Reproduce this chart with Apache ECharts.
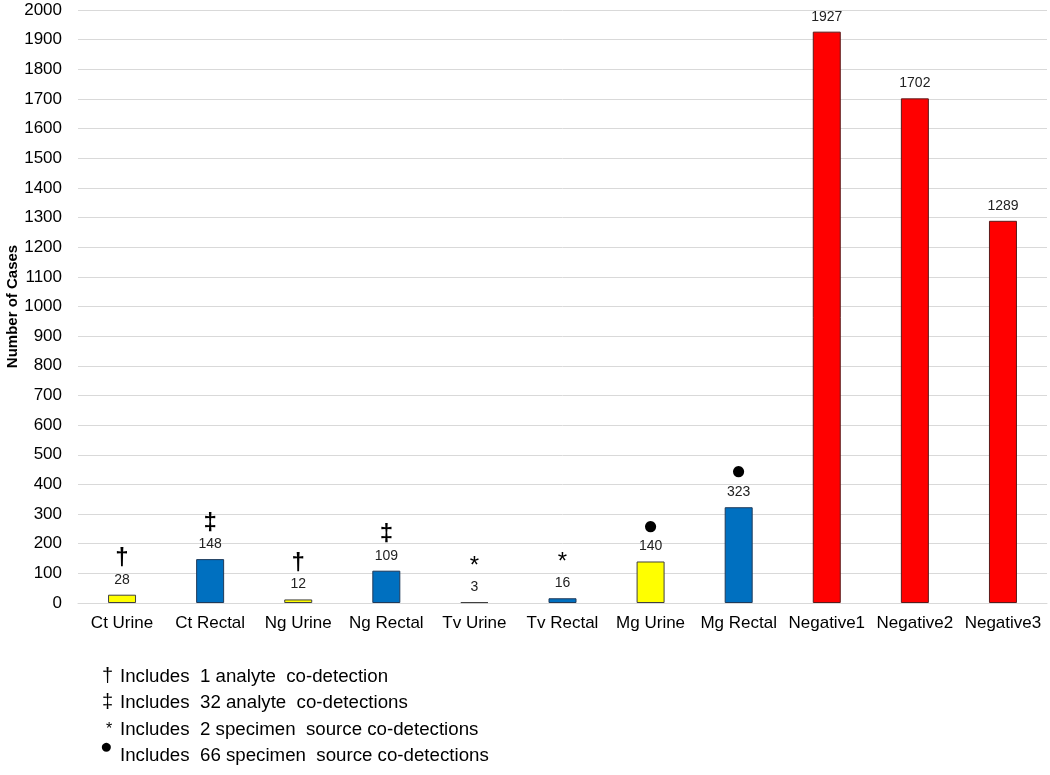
<!DOCTYPE html>
<html>
<head>
<meta charset="utf-8">
<script src="https://cdn.jsdelivr.net/npm/echarts@6/dist/echarts.min.js"></script>
<style>html,body{margin:0;padding:0;background:#fff}#c{width:1050px;height:775px}</style>
</head>
<body>
<div id="c"></div>
<script>
const categories = ['Ct Urine','Ct Rectal','Ng Urine','Ng Rectal','Tv Urine','Tv Rectal','Mg Urine','Mg Rectal','Negative1','Negative2','Negative3'];
const values = [28,148,12,109,3,16,140,323,1927,1702,1289];
const marks = ['†','‡','†','‡','*','*','●','●','','',''];
const groups = ['urine','rectal','urine','rectal','urine','rectal','urine','rectal','negative','negative','negative'];
const footnoteSymbols = ['†','‡','*','●'];
const footnotes = ['Includes  1 analyte  co-detection','Includes  32 analyte  co-detections','Includes  2 specimen  source co-detections','Includes  66 specimen  source co-detections'];
const yTicks = {min:0, max:2000, interval:100};

const fills = {urine:'#FFFF00', rectal:'#0070C0', negative:'#FF0000'};
const borders = {urine:'#404040', rectal:'#1f3a5a', negative:'#5a1a1a'};
const markStyle = {'†':'d','‡':'d','*':'a','●':'c'};

const chart = echarts.init(document.getElementById('c'));
const data = values.map((v,i)=>({
  value: v,
  itemStyle:{color: fills[groups[i]], borderColor: borders[groups[i]], borderWidth:1},
  label:{formatter: marks[i] ? '{'+markStyle[marks[i]]+'|'+marks[i]+'}\n{v|'+v+'}' : '{v|'+v+'}'}
}));

const FONT = '"Liberation Sans", Arial, sans-serif';
const symPos = [[102,666,'20px'],[102,692,'20px'],[106,722,'16px'],[100,737,'21px']];
const txtY = [667,693,720,746];
const graphics = [];
footnotes.forEach((t,i)=>{
  graphics.push({type:'text', left:symPos[i][0], top:symPos[i][1], style:{text:footnoteSymbols[i], font: symPos[i][2]+' '+FONT, fill:'#000'}});
  graphics.push({type:'text', left:120, top:txtY[i], style:{text:t, font:'18.7px '+FONT, fill:'#000'}});
});

chart.setOption({
  animation:false,
  textStyle:{fontFamily:FONT},
  grid:{left:78, right:3, top:10, bottom:172, outerBoundsMode:'none', containLabel:false},
  xAxis:{
    type:'category', data:categories,
    axisLine:{show:true, lineStyle:{color:'#d9d9d9'}},
    axisTick:{show:false},
    axisLabel:{color:'#000', fontSize:17, margin:12, interval:0}
  },
  yAxis:{
    type:'value', min:yTicks.min, max:yTicks.max, interval:yTicks.interval,
    name:'Number of Cases', nameLocation:'middle', nameGap:58, nameMoveOverlap:false,
    nameTextStyle:{color:'#000', fontSize:15, fontWeight:'bold'},
    axisLine:{show:false}, axisTick:{show:false},
    axisLabel:{color:'#000', fontSize:17, margin:16, formatter:(v)=>String(v)},
    splitLine:{lineStyle:{color:'#d9d9d9'}}
  },
  series:[{
    type:'bar', data:data, barWidth:28,
    label:{show:true, position:'top', distance:6, color:'#000',
      rich:{
        d:{fontSize:24, color:'#000', lineHeight:24, align:'center', fontWeight:'bold'},
        a:{fontSize:24, color:'#000', lineHeight:20, align:'center', verticalAlign:'bottom'},
        c:{fontSize:26, color:'#000', lineHeight:22, align:'center'},
        v:{fontSize:14, color:'#222', lineHeight:18, align:'center'}
      }
    }
  }],
  graphic:graphics
});
</script>
</body>
</html>
